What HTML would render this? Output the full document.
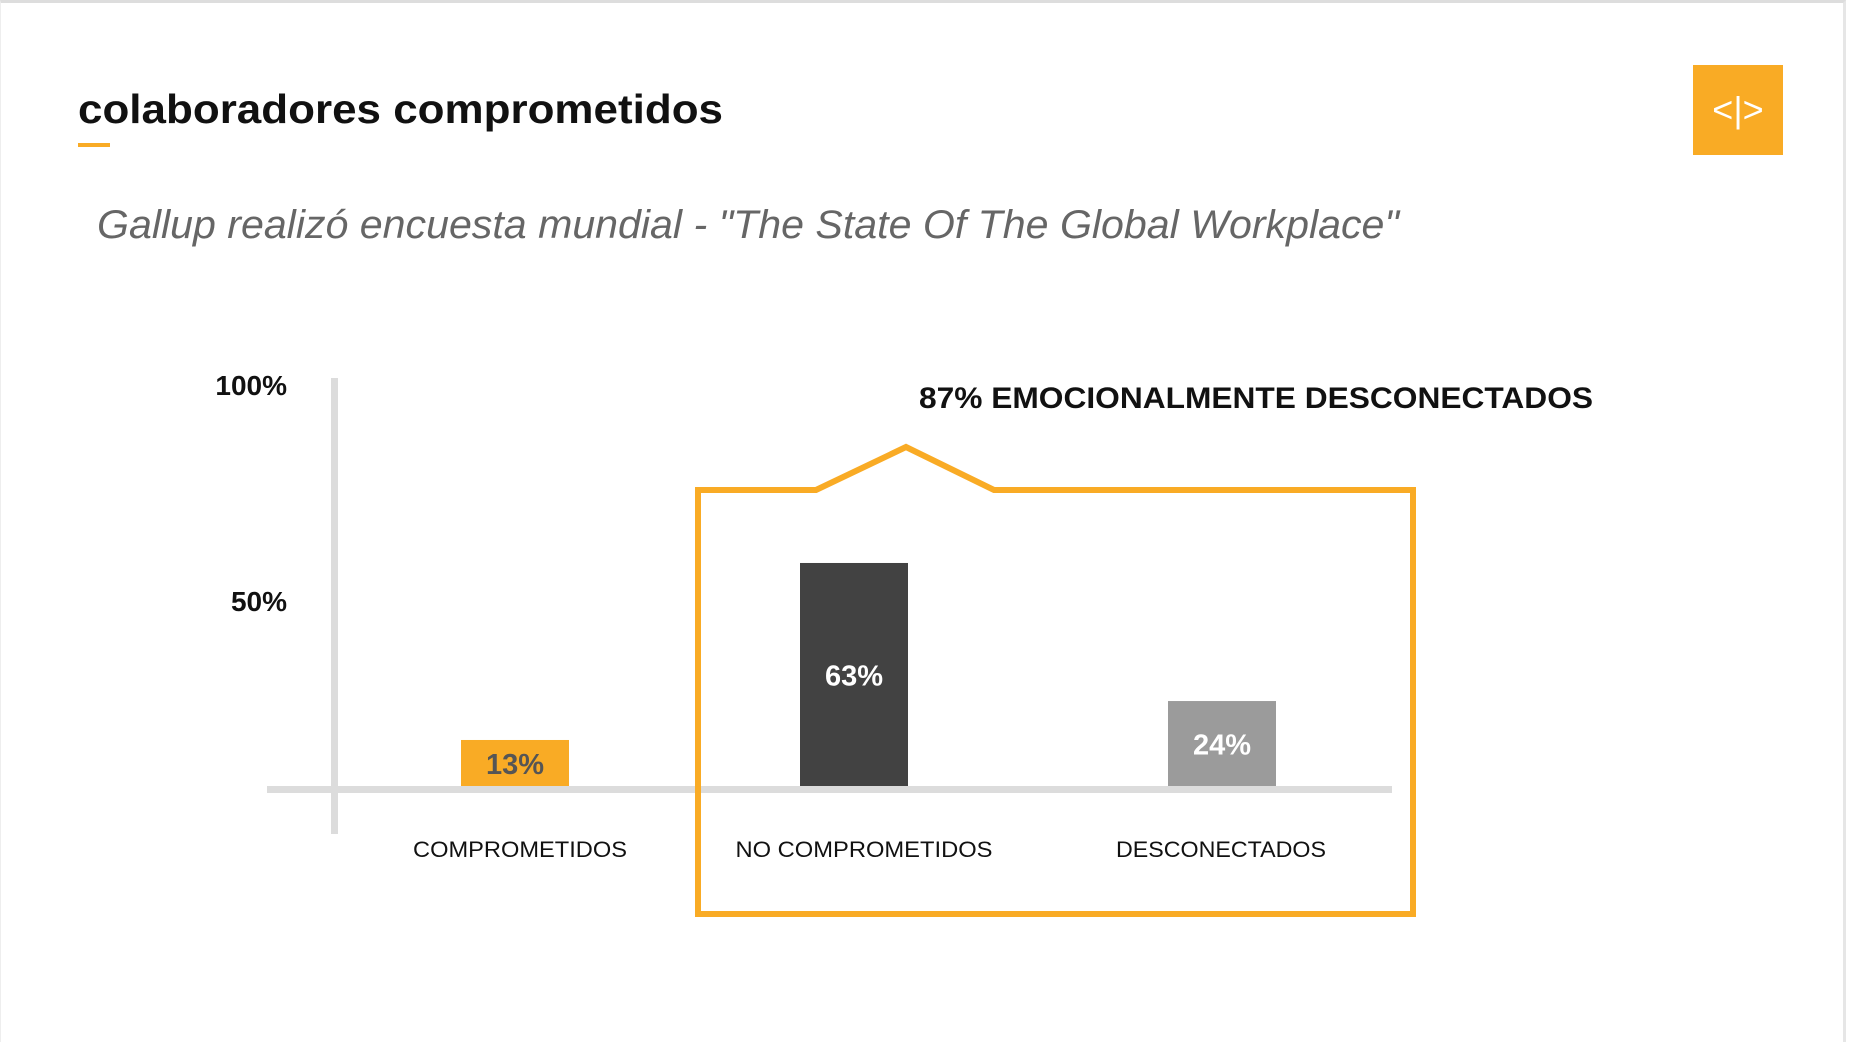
<!DOCTYPE html>
<html><head><meta charset="utf-8"><style>
html,body{margin:0;padding:0;background:#fff;}
body{width:1850px;height:1042px;overflow:hidden;position:relative;font-family:"Liberation Sans",sans-serif;}
#frame{position:absolute;left:0;top:0;width:1846px;height:1042px;border-top:3px solid #ddd;border-right:3px solid #e6e6e6;border-left:1px solid #eee;box-sizing:border-box;}
</style></head><body>
<div id="frame"></div>
<svg width="1850" height="1042" style="position:absolute;left:0;top:0" id="chart">
<text x="78" y="123" font-size="41" font-weight="bold" fill="#111" textLength="645" lengthAdjust="spacingAndGlyphs">colaboradores comprometidos</text>
<rect x="78" y="143" width="32" height="4" fill="#f9ab25"/>
<g><rect x="1693" y="65" width="90" height="90" fill="#f9ab25"/>
<text x="1738" y="122" font-size="36" fill="#fff" text-anchor="middle">&lt;|&gt;</text></g>
<text x="97" y="238" font-size="40" font-style="italic" fill="#666" textLength="1302" lengthAdjust="spacingAndGlyphs">Gallup realizó encuesta mundial - "The State Of The Global Workplace"</text>
<rect x="331" y="378" width="7" height="456" fill="#dcdcdc"/>
<rect x="267" y="786" width="1125" height="7" fill="#dcdcdc"/>
<g id="ticks"></g><g id="bars"></g>
<path d="M698 490 L816 490 L906 447 L994 490 L1413 490 L1413 914 L698 914 Z" fill="none" stroke="#f9ab25" stroke-width="6"/>
<text x="919" y="408" font-size="30" font-weight="bold" fill="#111" textLength="674" lengthAdjust="spacingAndGlyphs">87% EMOCIONALMENTE DESCONECTADOS</text>
</svg>
<script>
const categories=["COMPROMETIDOS","NO COMPROMETIDOS","DESCONECTADOS"];
const values=[13,63,24];
const tickValues=[50,100];
const tickLabels=["50%","100%"];
const colors=["#f9ab25","#424242","#9b9b9b"];
const labelColors=["#555","#fff","#fff"];
const ns="http://www.w3.org/2000/svg";
const y0=786, pxPer=3.54;
function yScale(v){return y0-v*pxPer;}
const bandCenters=[515,854,1222];
const labelCenters=[520,864,1221];
const labelLens=[214,257,210];
function xCenter(i){return bandCenters[i];}
const bars=document.getElementById('bars');
values.forEach((v,i)=>{
 const r=document.createElementNS(ns,'rect');
 r.setAttribute('x',xCenter(i)-54);r.setAttribute('y',yScale(v));
 r.setAttribute('width',108);r.setAttribute('height',y0-yScale(v));
 r.setAttribute('fill',colors[i]);
 
 
 bars.appendChild(r);
 const t=document.createElementNS(ns,'text');
 t.setAttribute('x',xCenter(i));t.setAttribute('y',(yScale(v)+y0)/2+11);
 t.setAttribute('text-anchor','middle');t.setAttribute('font-size','29');t.setAttribute('font-weight','bold');
 t.setAttribute('fill',labelColors[i]);t.textContent=v+'%';
 
 
 bars.appendChild(t);
 const c=document.createElementNS(ns,'text');
 c.setAttribute('x',labelCenters[i]);c.setAttribute('y',857);
 c.setAttribute('text-anchor','middle');c.setAttribute('font-size','22');c.setAttribute('fill','#111');
 c.setAttribute('textLength',labelLens[i]);c.setAttribute('lengthAdjust','spacingAndGlyphs');
 c.textContent=categories[i];
 
 
 bars.appendChild(c);
});
const ticks=document.getElementById('ticks');
tickValues.forEach((v,i)=>{
 const t=document.createElementNS(ns,'text');
 t.setAttribute('x',287);t.setAttribute('y',(v===100?395:yScale(v)+2));
 t.setAttribute('text-anchor','end');t.setAttribute('font-size','28');t.setAttribute('font-weight','bold');t.setAttribute('fill','#111');
 t.textContent=tickLabels[i];
 
 
 ticks.appendChild(t);
});
</script>
</body></html>
